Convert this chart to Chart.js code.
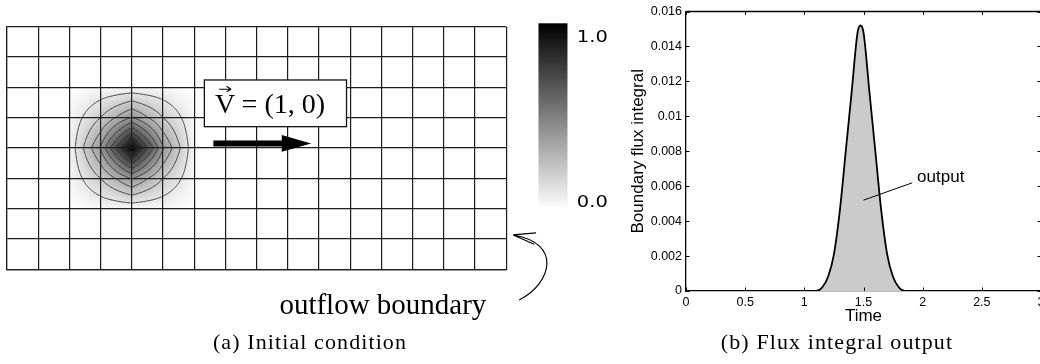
<!DOCTYPE html>
<html>
<head>
<meta charset="utf-8">
<script src="https://cdn.jsdelivr.net/npm/chart.js@4.4.1/dist/chart.umd.min.js"></script>
<style>
  html, body { margin: 0; padding: 0; background: #fff; width: 1040px; height: 364px; overflow: hidden; }
  #mesh { position: absolute; left: 0; top: 0; }
  #flux { position: absolute; left: 600px; top: 0; }
  .cap {
    position: absolute; top: 331px; transform: translateX(-50%);
    font-family: "Liberation Serif", "DejaVu Serif", serif; font-size: 22px; line-height: 22px;
    letter-spacing: 1.1px; white-space: nowrap; color: #000;
  }
</style>
</head>
<body>
<canvas id="mesh" width="620" height="364"></canvas>
<canvas id="flux" width="460" height="364"></canvas>
<div class="cap" style="left:310px">(a) Initial condition</div>
<div class="cap" style="left:837px">(b) Flux integral output</div>
<script>
// ---- Panel (a): mesh and initial pulse ----
const meshXLines = [0, 1, 2, 3, 4, 5, 6, 7, 8, 9, 10, 11, 12, 13, 14, 15, 16];
const meshYLines = [0, 1, 2, 3, 4, 5, 6, 7, 8];

// nodal values of the initial condition (rows listed top to bottom)
const pulseNodeX = [2, 3, 4, 5, 6];
const pulseNodeY = [6, 5, 4, 3, 2];
const pulseNodeValues = [
  [0.005, 0.03, 0.03, 0.03, 0.005],
  [0.03,  0.20, 0.41, 0.20, 0.03],
  [0.03,  0.41, 1.00, 0.41, 0.03],
  [0.03,  0.20, 0.41, 0.20, 0.03],
  [0.005, 0.03, 0.03, 0.03, 0.005]
];
const contourLevels = [0.1, 0.2, 0.3, 0.4, 0.5, 0.6, 0.7, 0.8, 0.9];
const colorbarLabels = ['1.0', '0.0'];
const velocityLabel = ['V', '= (1, 0)'];
const boundaryLabel = 'outflow boundary';

// ---- Panel (b): boundary flux history ----
const timeValues = [0, 1.0, 1.1, 1.15, 1.2, 1.25, 1.3, 1.35, 1.4, 1.45, 1.475, 1.5, 1.55, 1.6, 1.65, 1.7, 1.75, 1.8, 1.85, 1.9, 3.0];
const fluxValues = [0, 0, 0, 0.0002, 0.0008, 0.0021, 0.0046, 0.0080, 0.0114, 0.0148, 0.0152, 0.0148, 0.0114, 0.0080, 0.0046, 0.0021, 0.0008, 0.0002, 0, 0, 0];
const xTickValues = [0, 0.5, 1, 1.5, 2, 2.5, 3];
const xTickLabels = ['0', '0.5', '1', '1.5', '2', '2.5', '3'];
const yTickValues = [0, 0.002, 0.004, 0.006, 0.008, 0.010, 0.012, 0.014, 0.016];
const yTickLabels = ['0', '0.002', '0.004', '0.006', '0.008', '0.01', '0.012', '0.014', '0.016'];

const SANS = '"Liberation Sans", Arial, sans-serif';
const SERIF = '"Liberation Serif", "Times New Roman", serif';

// mesh nodes as a scatter dataset carrying the nodal value
const pulseNodes = [];
pulseNodeY.forEach((y, r) => pulseNodeX.forEach((x, c) => pulseNodes.push({ x, y, v: pulseNodeValues[r][c] })));

function makeField(chart) {
  const nodes = chart.data.datasets[0].data;
  const lookup = new Map();
  nodes.forEach(n => lookup.set(n.x + ',' + n.y, n.v));
  const g = (x, y) => lookup.get(x + ',' + y) || 0;
  // bilinear interpolation inside each mesh cell
  return (x, y) => {
    const i = Math.floor(x), j = Math.floor(y);
    const u = x - i, v = y - j;
    return (1 - u) * (1 - v) * g(i, j) + u * (1 - v) * g(i + 1, j) +
           (1 - u) * v * g(i, j + 1) + u * v * g(i + 1, j + 1);
  };
}

const shadingPlugin = {
  id: 'shading',
  beforeDraw(chart) {
    const { ctx, scales: { x, y } } = chart;
    const f = makeField(chart);
    const xs = pulseNodeX, ys = pulseNodeY;
    const x0 = Math.floor(x.getPixelForValue(Math.min(...xs)));
    const x1 = Math.ceil(x.getPixelForValue(Math.max(...xs)));
    const y0 = Math.floor(y.getPixelForValue(Math.max(...ys)));
    const y1 = Math.ceil(y.getPixelForValue(Math.min(...ys)));
    const w = x1 - x0, h = y1 - y0;
    const img = ctx.createImageData(w, h);
    for (let j = 0; j < h; j++) {
      const dy = y.getValueForPixel(y0 + j + 0.5);
      for (let i = 0; i < w; i++) {
        const dx = x.getValueForPixel(x0 + i + 0.5);
        const val = Math.max(0, Math.min(1, f(dx, dy)));
        const k = 4 * (j * w + i);
        const gray = Math.round(255 * (1 - val));
        img.data[k] = img.data[k + 1] = img.data[k + 2] = gray;
        img.data[k + 3] = 255;
      }
    }
    ctx.putImageData(img, x0, y0);
  },
  afterDatasetsDraw(chart) {
    // contour lines by marching squares on a fine sub-lattice
    const { ctx, scales: { x, y } } = chart;
    const f = makeField(chart);
    const xa = Math.min(...pulseNodeX), xb = Math.max(...pulseNodeX);
    const ya = Math.min(...pulseNodeY), yb = Math.max(...pulseNodeY);
    const n = 96;
    const hx = (xb - xa) / n, hy = (yb - ya) / n;
    const vals = [];
    for (let j = 0; j <= n; j++) {
      vals.push([]);
      for (let i = 0; i <= n; i++) vals[j].push(f(xa + i * hx, ya + j * hy));
    }
    ctx.save();
    ctx.strokeStyle = 'rgba(45,45,45,0.95)';
    ctx.lineWidth = 0.9;
    const P = (px, py) => [x.getPixelForValue(px), y.getPixelForValue(py)];
    contourLevels.forEach(L => {
      ctx.beginPath();
      for (let j = 0; j < n; j++) {
        for (let i = 0; i < n; i++) {
          const cx0 = xa + i * hx, cy0 = ya + j * hy;
          const a = vals[j][i], b = vals[j][i + 1], c = vals[j + 1][i + 1], d = vals[j + 1][i];
          const pts = [];
          const edge = (va, vb, pa, pb) => {
            if ((va > L) !== (vb > L)) {
              const t = (L - va) / (vb - va);
              pts.push([pa[0] + t * (pb[0] - pa[0]), pa[1] + t * (pb[1] - pa[1])]);
            }
          };
          const A = [cx0, cy0], B = [cx0 + hx, cy0], C = [cx0 + hx, cy0 + hy], D = [cx0, cy0 + hy];
          edge(a, b, A, B); edge(b, c, B, C); edge(c, d, C, D); edge(d, a, D, A);
          const seg = (p, q) => { const s = P(p[0], p[1]), e = P(q[0], q[1]); ctx.moveTo(s[0], s[1]); ctx.lineTo(e[0], e[1]); };
          if (pts.length === 2) seg(pts[0], pts[1]);
          else if (pts.length === 4) {
            const mid = (a + b + c + d) / 4;
            if ((mid > L) === (a > L)) { seg(pts[0], pts[1]); seg(pts[2], pts[3]); }
            else { seg(pts[0], pts[3]); seg(pts[1], pts[2]); }
          }
        }
      }
      ctx.stroke();
    });
    ctx.restore();
  }
};

const meshDecorPlugin = {
  id: 'meshDecor',
  afterDraw(chart) {
    const { ctx, scales: { x, y } } = chart;
    const X = v => x.getPixelForValue(v), Y = v => y.getPixelForValue(v);
    ctx.save();
    // velocity label box
    const bl = X(6.326), br = X(10.882), bt = Y(6.243), bb = Y(4.703);
    ctx.fillStyle = '#fff';
    ctx.fillRect(bl, bt, br - bl, bb - bt);
    ctx.strokeStyle = '#111';
    ctx.lineWidth = 1.3;
    ctx.strokeRect(bl, bt, br - bl, bb - bt);
    ctx.fillStyle = '#000';
    ctx.font = '28px ' + SERIF;
    ctx.textBaseline = 'alphabetic';
    ctx.textAlign = 'left';
    const vx = X(6.669), vy = Y(5.145);
    ctx.fillText(velocityLabel[0], vx, vy);
    ctx.fillText(velocityLabel[1], X(7.52), vy);
    // vector arrow over V
    ctx.lineWidth = 1.1;
    ctx.strokeStyle = '#000';
    ctx.beginPath();
    ctx.moveTo(vx + 4, vy - 24); ctx.lineTo(vx + 16, vy - 24);
    ctx.moveTo(vx + 16, vy - 24); ctx.lineTo(vx + 11.5, vy - 27);
    ctx.moveTo(vx + 16, vy - 24); ctx.lineTo(vx + 11.5, vy - 21.5);
    ctx.stroke();
    // thick flow arrow
    const ay = Y(4.149), as = X(6.614), ah = X(8.807), at = X(9.747);
    ctx.fillStyle = '#000';
    ctx.fillRect(as, ay - 3, ah - as + 1, 6);
    ctx.beginPath();
    ctx.moveTo(ah, ay - 8.5); ctx.lineTo(at, ay); ctx.lineTo(ah, ay + 8.2); ctx.closePath();
    ctx.fill();
    // colour bar
    const cl = X(17.034), cr = X(17.964), ct = Y(8.112), cb = Y(2.065);
    const grad = ctx.createLinearGradient(0, ct, 0, cb);
    grad.addColorStop(0, '#000');
    grad.addColorStop(1, '#fbfbfb');
    ctx.fillStyle = grad;
    ctx.fillRect(cl, ct, cr - cl, cb - ct);
    ctx.fillStyle = '#000';
    ctx.font = '16.5px "DejaVu Sans", sans-serif';
    [[colorbarLabels[0], Y(7.505)], [colorbarLabels[1], Y(2.055)]].forEach(([t, ty]) => {
      ctx.save();
      ctx.translate(X(18.265), ty);
      ctx.scale(1.18, 1);
      ctx.fillText(t, 0, 0);
      ctx.restore();
    });
    // outflow boundary label and curved pointer
    ctx.font = '29px ' + SERIF;
    ctx.fillText(boundaryLabel, X(8.73), Y(-1.489));
    const p0 = [X(16.415), Y(-1.011)], p1 = [X(17.473), Y(-0.451)], p2 = [X(17.794), Y(0.868)], p3 = [X(16.223), Y(1.132)];
    ctx.strokeStyle = '#000';
    ctx.lineWidth = 1.2;
    ctx.beginPath();
    ctx.moveTo(p0[0], p0[1]);
    ctx.bezierCurveTo(p1[0], p1[1], p2[0], p2[1], p3[0], p3[1]);
    const back = Math.atan2(p2[1] - p3[1], p2[0] - p3[0]);
    [-0.25, 0.25].forEach(da => {
      ctx.moveTo(p3[0], p3[1]);
      ctx.lineTo(p3[0] + 23 * Math.cos(back + da), p3[1] + 23 * Math.sin(back + da));
    });
    ctx.stroke();
    ctx.restore();
  }
};

new Chart(document.getElementById('mesh'), {
  type: 'scatter',
  data: { datasets: [{ data: pulseNodes, pointRadius: 0, pointHoverRadius: 0, showLine: false }] },
  options: {
    responsive: false, animation: false, devicePixelRatio: 1, events: [],
    layout: { padding: { left: 0, top: 26.7, right: 113.8, bottom: 0 } },
    plugins: { legend: { display: false }, tooltip: { enabled: false } },
    scales: {
      x: {
        type: 'linear', min: 0, max: 16,
        afterBuildTicks: s => { s.ticks = meshXLines.map(v => ({ value: v })); },
        afterFit: s => { s.height = 94.7; },
        ticks: { display: false },
        grid: { color: '#1c1c1c', lineWidth: 1.2, drawTicks: false },
        border: { display: true, color: '#1c1c1c', width: 1.2 }
      },
      y: {
        type: 'linear', min: 0, max: 8,
        afterBuildTicks: s => { s.ticks = meshYLines.map(v => ({ value: v })); },
        afterFit: s => { s.width = 7; },
        ticks: { display: false },
        grid: { color: '#1c1c1c', lineWidth: 1.2, drawTicks: false },
        border: { display: true, color: '#1c1c1c', width: 1.2 }
      }
    }
  },
  plugins: [shadingPlugin, meshDecorPlugin]
});

// frame with inward tick marks on all four sides, plus the curve label
const fluxFramePlugin = {
  id: 'fluxFrame',
  afterDraw(chart) {
    const { ctx, chartArea: a, scales: { x, y } } = chart;
    ctx.save();
    ctx.strokeStyle = '#000';
    ctx.lineWidth = 1.3;
    ctx.beginPath();
    ctx.moveTo(a.left, a.top); ctx.lineTo(a.right, a.top); ctx.lineTo(a.right, a.bottom);
    ctx.stroke();
    ctx.lineWidth = 1;
    ctx.beginPath();
    xTickValues.forEach(v => {
      const px = Math.round(x.getPixelForValue(v)) + 0.5;
      ctx.moveTo(px, a.bottom); ctx.lineTo(px, a.bottom - 3.5);
      ctx.moveTo(px, a.top); ctx.lineTo(px, a.top + 3.5);
    });
    yTickValues.forEach(v => {
      const py = Math.round(y.getPixelForValue(v)) + 0.5;
      ctx.moveTo(a.left, py); ctx.lineTo(a.left + 3.5, py);
      ctx.moveTo(a.right, py); ctx.lineTo(a.right - 3.5, py);
    });
    ctx.stroke();
    // "output" pointer
    ctx.beginPath();
    ctx.moveTo(x.getPixelForValue(1.5), y.getPixelForValue(0.0052));
    ctx.lineTo(x.getPixelForValue(1.911), y.getPixelForValue(0.00619));
    ctx.stroke();
    ctx.fillStyle = '#000';
    ctx.font = '17px ' + SANS;
    ctx.textBaseline = 'alphabetic';
    ctx.fillText('output', x.getPixelForValue(1.953), y.getPixelForValue(0.00622));
    ctx.restore();
  }
};

new Chart(document.getElementById('flux'), {
  type: 'line',
  data: {
    datasets: [{
      label: 'output',
      data: timeValues.map((t, i) => ({ x: t, y: fluxValues[i] })),
      borderColor: '#000', borderWidth: 1.8,
      backgroundColor: '#cbcbcb', fill: 'origin',
      pointRadius: 0, pointHoverRadius: 0,
      cubicInterpolationMode: 'monotone'
    }]
  },
  options: {
    responsive: false, animation: false, devicePixelRatio: 1, events: [],
    layout: { padding: { left: 0, top: 10, right: 19, bottom: 0 } },
    plugins: { legend: { display: false }, tooltip: { enabled: false } },
    scales: {
      x: {
        type: 'linear', min: 0, max: 3,
        afterBuildTicks: s => { s.ticks = xTickValues.map(v => ({ value: v })); },
        afterFit: s => { s.height = 73; },
        ticks: {
          callback: (v, i) => xTickLabels[i], color: '#000', padding: 4,
          maxRotation: 0, autoSkip: false, font: { family: SANS, size: 12.5 }
        },
        grid: { display: false, drawTicks: false },
        border: { display: true, color: '#000', width: 1.3 },
        title: { display: true, text: 'Time', color: '#000', font: { family: SANS, size: 17 }, padding: { top: 0, bottom: 37 } }
      },
      y: {
        type: 'linear', min: 0, max: 0.016,
        afterBuildTicks: s => { s.ticks = yTickValues.map(v => ({ value: v })); },
        afterFit: s => { s.width = 86; },
        ticks: {
          callback: (v, i) => yTickLabels[i], color: '#000', padding: 4,
          autoSkip: false, font: { family: SANS, size: 12.5 }
        },
        grid: { display: false, drawTicks: false },
        border: { display: true, color: '#000', width: 1.3 },
        title: { display: true, text: 'Boundary flux integral', color: '#000', font: { family: SANS, size: 17 }, padding: { top: 28.5, bottom: 0 } }
      }
    }
  },
  plugins: [fluxFramePlugin]
});
</script>
</body>
</html>
